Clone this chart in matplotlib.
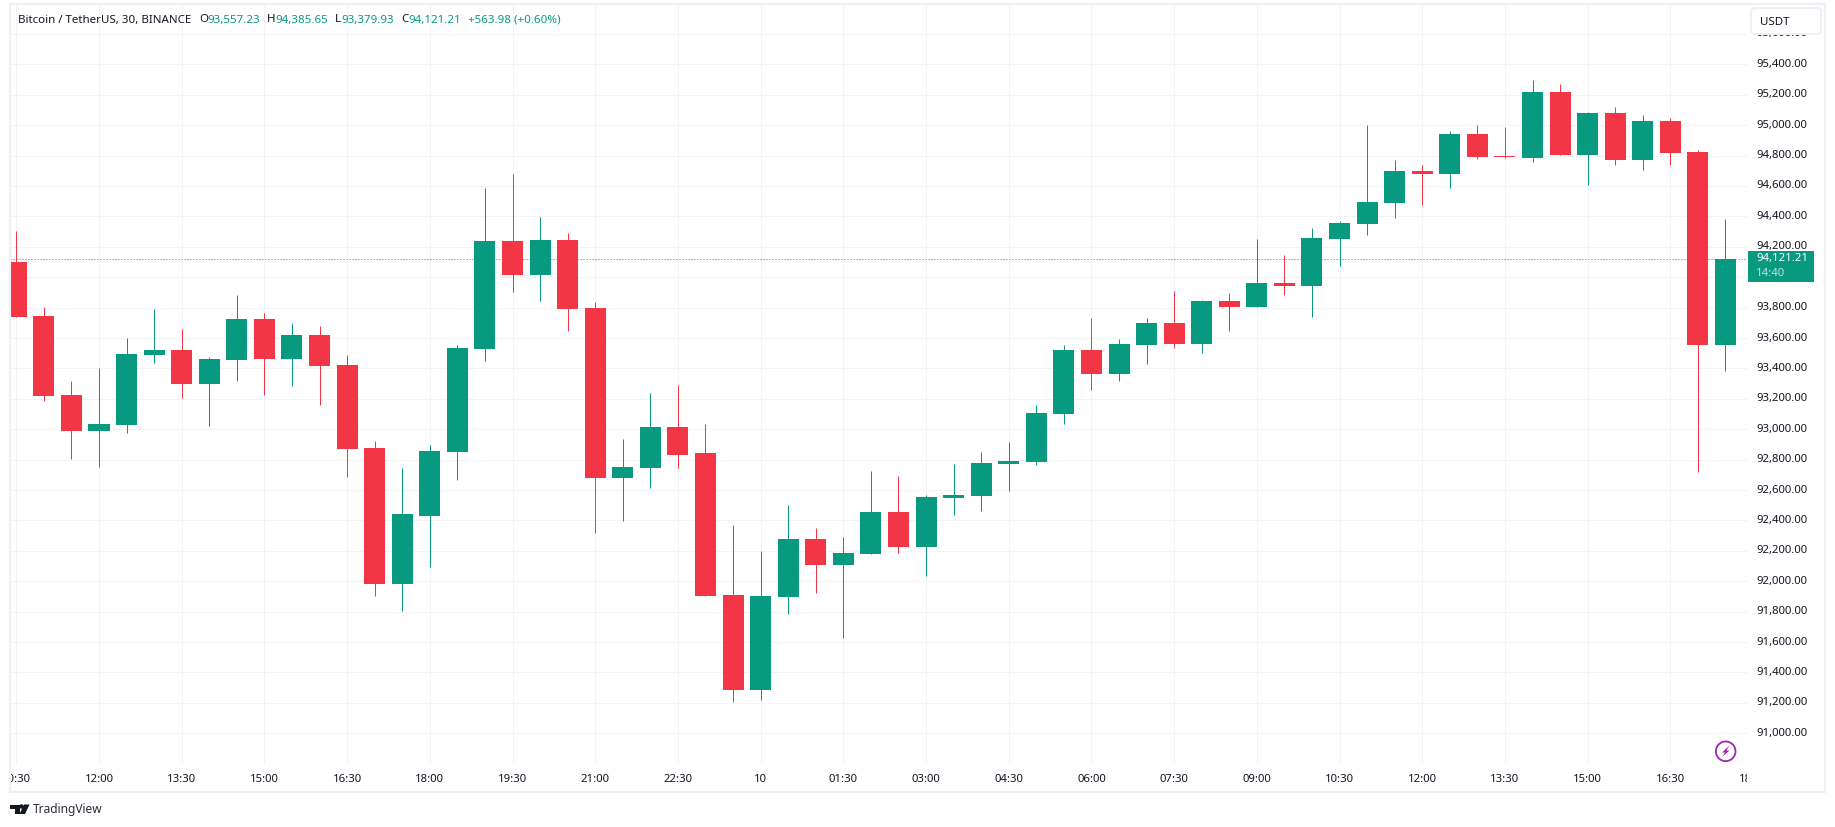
import matplotlib
matplotlib.use("Agg")
import matplotlib.pyplot as plt
from matplotlib.patches import Rectangle, FancyBboxPatch, Circle, Polygon
from matplotlib.transforms import Bbox, IdentityTransform

W, H = 1835, 828
FONT = "Noto Sans"
plt.rcParams["font.family"] = [FONT, "DejaVu Sans"]

GREEN = "#089981"
RED = "#F23645"
TEXT = "#131722"
GRID = "#F2F3F5"
FRAME = "#EEF0F6"

opens = [94099, 93744, 93225, 92988, 93027, 93488, 93520, 93297, 93455, 93724,
         93461, 93619, 93422, 92876, 91982, 92432, 92853, 93530, 94241, 94017,
         94247, 93800, 92682, 92748, 93017, 92842, 91908, 91283, 91895, 92276,
         92105, 92177, 92454, 92223, 92546, 92559, 92769, 92782, 93100, 93520,
         93363, 93553, 93698, 93560, 93843, 93803, 93961, 93941, 94250, 94347,
         94485, 94696, 94676, 94939, 94794, 94781, 95215, 94801, 95077, 94768,
         95025, 94821, 93557.23]
highs = [94303, 93803, 93317, 93402, 93599, 93790, 93659, 93474, 93882, 93764,
         93698, 93678, 93488, 92922, 92744, 92899, 93557, 94589, 94681, 94398,
         94293, 93839, 92938, 93241, 93294, 93032, 92368, 92197, 92500, 92348,
         92289, 92723, 92690, 92565, 92769, 92848, 92914, 93157, 93553, 93731,
         93593, 93731, 93908, 93849, 93895, 94250, 94145, 94323, 94369, 94998,
         94768, 94735, 94959, 94998, 94985, 95294, 95268, 95084, 95117, 95064,
         95044, 94834, 94385.65]
lows = [93737, 93185, 92804, 92751, 92975, 93435, 93205, 93021, 93317, 93225,
        93284, 93159, 92685, 91903, 91804, 92097, 92669, 93451, 93905, 93846,
        93649, 92320, 92399, 92616, 92748, 91901, 91204, 91217, 91783, 91921,
        91625, 92177, 92184, 92033, 92434, 92460, 92592, 92763, 93034, 93257,
        93317, 93428, 93534, 93501, 93645, 93803, 93882, 93737, 94073, 94275,
        94387, 94472, 94584, 94775, 94781, 94755, 94801, 94604, 94735, 94702,
        94735, 92716, 93379.93]
closes = [93737, 93218, 92988, 93034, 93494, 93520, 93297, 93461, 93724, 93461,
          93619, 93415, 92869, 91982, 92442, 92860, 93537, 94241, 94017, 94247,
          93793, 92682, 92754, 93017, 92833, 91901, 91283, 91901, 92276, 92105,
          92184, 92454, 92223, 92552, 92565, 92776, 92789, 93105, 93520, 93363,
          93560, 93698, 93560, 93843, 93803, 93961, 93941, 94257, 94356, 94492,
          94696, 94676, 94939, 94788, 94788, 95215, 94801, 95077, 94768, 95025,
          94814, 93557.23, 94121.21]

price_ticks = [91000, 91200, 91400, 91600, 91800, 92000, 92200, 92400, 92600,
               92800, 93000, 93200, 93400, 93600, 93800, 94000, 94200, 94400,
               94600, 94800, 95000, 95200, 95400, 95600]
time_positions = [0, 3, 6, 9, 12, 15, 18, 21, 24, 27, 30, 33, 36, 39, 42, 45,
                  48, 51, 54, 57, 60, 63]
time_labels = ["10:30", "12:00", "13:30", "15:00", "16:30", "18:00", "19:30",
               "21:00", "22:30", "10", "01:30", "03:00", "04:30", "06:00",
               "07:30", "09:00", "10:30", "12:00", "13:30", "15:00", "16:30",
               "18:00"]
last_price = 94121.21

fig = plt.figure(figsize=(W / 100, H / 100), dpi=100, facecolor="white")


def fx(px):
    return px / W


def fy(py):
    return 1 - py / H


# pane: x 10..1747, y 5..765 in reference pixels
ax = fig.add_axes([fx(10), fy(765), fx(1737), 760 / H])
ax.set_xlim(-0.2285, 62.78)
ax.set_ylim(90798, 95797)
for s in ax.spines.values():
    s.set_visible(False)
ax.tick_params(left=False, bottom=False, labelleft=False, labelbottom=False)
ax.set_facecolor("white")

LW = 0.72
ax.hlines(price_ticks, -1, 70, color=GRID, lw=LW, zorder=0.5)
ax.vlines(time_positions, 0, 100000, color=GRID, lw=LW, zorder=0.5)
ax.axhline(last_price, color=GREEN, lw=LW, dashes=(1, 2), zorder=1.5,
           dash_capstyle="butt")

for i, (o, h, l, c) in enumerate(zip(opens, highs, lows, closes)):
    col = GREEN if c >= o else RED
    ax.vlines(i, l, h, color=col, lw=LW, zorder=2)
    ax.bar(i, abs(c - o), bottom=min(o, c), width=0.762, color=col, lw=0,
           zorder=3)

# price axis labels
for p in price_ticks:
    ax.annotate(f"{p:,.2f}", xy=(1, p), xycoords=("axes fraction", "data"),
                xytext=(9 * 0.72, 1 * 0.72), textcoords="offset points",
                ha="left", va="center", fontsize=8.15, color=TEXT,
                annotation_clip=False)

# time axis labels, clipped to the pane's width
clip = Bbox([[10, 0], [1747, H]])
for x, lab in zip(time_positions, time_labels):
    t = ax.annotate(lab, xy=(x, 0), xycoords=("data", "axes fraction"),
                    xytext=(0, -14.7 * 0.72), textcoords="offset points",
                    ha="center", va="center", fontsize=8.15, color=TEXT,
                    fontweight="bold" if lab == "10" else "normal",
                    annotation_clip=False)
    t.set_clip_box(clip)
    t.set_clip_on(True)

fig.canvas.draw()
ly = H - ax.transData.transform((0, last_price))[1]  # pixel row of last price

# last price tag
fig.add_artist(Rectangle((fx(1748), fy(ly + 23)), fx(66), 31 / H, facecolor=GREEN,
                         edgecolor="none", transform=fig.transFigure, zorder=4))
fig.text(fx(1756), fy(ly - 1), f"{last_price:,.2f}", color="white", fontsize=8.15,
         ha="left", va="center", zorder=5, fontweight="semibold")
fig.text(fx(1756), fy(ly + 13.5), "14:40", color="#BFE3DC", fontsize=8.15,
         ha="left", va="center", zorder=5)

# frame
fig.add_artist(Rectangle((fx(10), fy(793)), fx(1815), 788 / H, facecolor="none",
                         edgecolor=FRAME, lw=1.5, transform=fig.transFigure, zorder=6))

# currency button
fig.add_artist(FancyBboxPatch((1751, H - 35), 70, 26,
                              boxstyle="round,pad=0,rounding_size=4",
                              mutation_aspect=1, facecolor="white", edgecolor=FRAME,
                              lw=1.4, transform=IdentityTransform(), zorder=6))
fig.text(fx(1760), fy(22.5), "USDT", fontsize=8.3, color=TEXT, ha="left", va="center",
         zorder=7)

# header
fs = 8.3
fig.text(fx(18), fy(20), "Bitcoin / TetherUS, 30, BINANCE", fontsize=fs, color=TEXT,
         va="center", zorder=7)
for px, s, col in [(199, "O", TEXT), (207, "93,557.23", GREEN),
                   (267, "H", TEXT), (275.5, "94,385.65", GREEN),
                   (335, "L", TEXT), (341.5, "93,379.93", GREEN),
                   (401.5, "C", TEXT), (408.7, "94,121.21", GREEN),
                   (468, "+563.98 (+0.60%)", GREEN)]:
    fig.text(fx(px), fy(20), s, fontsize=fs, color=col, va="center", zorder=7)

# lightning badge
fig.add_artist(Circle((1725.7, H - 752.3), 9.8, facecolor="white", edgecolor="#9C27B0",
                      lw=1.3, transform=IdentityTransform(), zorder=7))
bolt = [(1729.5, 746.5), (1722, 753.5), (1725, 753.5), (1722, 758),
        (1729.5, 751.5), (1726.5, 751.5)]
fig.add_artist(Polygon([(x, H - y) for x, y in bolt], closed=True, facecolor="#9C27B0",
                       edgecolor="none", transform=IdentityTransform(), zorder=8))

# TradingView logo
logo = "#131722"
for pts in ([(10, 805.5), (19.5, 805.5), (19.5, 815), (15, 815), (15, 810), (10, 810)],
            [(24, 805.5), (29.5, 805.5), (25, 815), (19.5, 815)]):
    fig.add_artist(Polygon([(x, H - y) for x, y in pts], closed=True, facecolor=logo,
                           edgecolor="none", transform=IdentityTransform(), zorder=8))
fig.add_artist(Circle((21.5, H - 807.5), 2.2, facecolor=logo, edgecolor="none",
                      transform=IdentityTransform(), zorder=8))
fig.text(fx(33), fy(810), "TradingView", fontsize=8.6, color="#2A2E39", ha="left",
         va="center", zorder=8)

fig.savefig("out.png", dpi=100, facecolor="white")
